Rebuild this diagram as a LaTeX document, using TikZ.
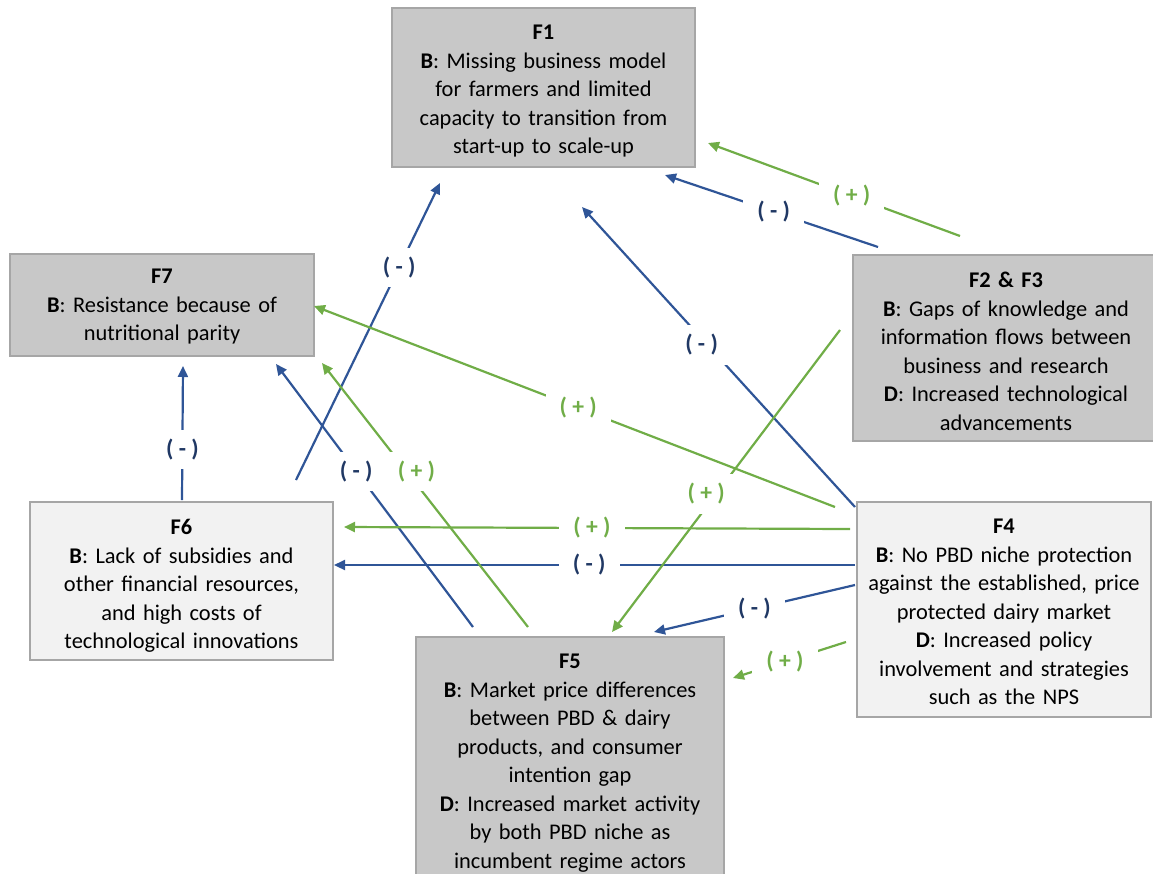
\documentclass[tikz,border=0pt]{standalone}
\usepackage{fontspec}
\setmainfont{Carlito}
\usetikzlibrary{positioning, arrows.meta}
\definecolor{linkblue}{HTML}{2F5597}
\definecolor{labelblue}{HTML}{203864}
\definecolor{linkgreen}{HTML}{70AD47}
\definecolor{boxdark}{HTML}{C8C8C8}
\definecolor{boxlight}{HTML}{F2F2F2}
\definecolor{boxedge}{HTML}{A6A6A6}
\frenchspacing

\begin{document}
\begin{tikzpicture}[x=0.5pt, y=-0.5pt,
    MyBox/.style={draw=boxedge, line width=1pt, inner sep=0pt, outer sep=0pt},
    DarkBox/.style={MyBox, fill=boxdark},
    LightBox/.style={MyBox, fill=boxlight},
    BoxText/.style={inner sep=0pt, align=center, text width=#1,
                font=\fontsize{11.2}{14.25}\selectfont},
    Link/.style={line width=1.1pt, -{Triangle[length=5.5pt, width=5pt]}},
    NegLink/.style={Link, draw=linkblue},
    PosLink/.style={Link, draw=linkgreen},
    Sign/.style={fill=white, inner xsep=7pt, inner ysep=4.5pt, pos=#1,
                font=\bfseries\fontsize{11.8}{13}\selectfont},
    Neg/.style={Sign=#1, text=labelblue},
    Pos/.style={Sign=#1, text=linkgreen},
  ]
\useasboundingbox (0,0) rectangle (1153,874);

% factor boxes
\node (F1) [DarkBox, minimum width=151.5pt, minimum height=79.5pt] at (543.5,87.5) {};
\node (F7) [DarkBox, minimum width=152pt, minimum height=51pt] at (162,305) {};
\node (F23) [DarkBox, minimum width=153pt, minimum height=93pt] at (1006,348) {};
\node (F6) [LightBox, minimum width=151.5pt, minimum height=79pt] at (181.5,581) {};
\node (F4) [LightBox, minimum width=147pt, minimum height=107.5pt] at (1004,609.5) {};
\node (F5) [DarkBox, minimum width=154pt, minimum height=125pt] at (570,762) {};

\node (F1t) [BoxText=150pt, below=8.5pt of F1.north]
  {\textbf{F1}\\\textbf{B}: Missing business model\\for farmers and limited\\capacity to transition from\\start-up to scale-up};
\node (F7t) [BoxText=150pt, below=7.5pt of F7.north]
  {\textbf{F7}\\\textbf{B}: Resistance because of\\nutritional parity};
\node (F23t) [BoxText=150pt, below=8.5pt of F23.north]
  {\textbf{F2 \& F3}\\\textbf{B}: Gaps of knowledge and\\information flows between\\business and research\\\textbf{D}: Increased technological\\advancements};
\node (F6t) [BoxText=150pt, below=8.5pt of F6.north]
  {\textbf{F6}\\\textbf{B}: Lack of subsidies and\\other financial resources,\\and high costs of\\technological innovations};
\node (F4t) [BoxText=150pt, below=8.5pt of F4.north]
  {\textbf{F4}\\\textbf{B}: No PBD niche protection\\against the established, price\\protected dairy market\\\textbf{D}: Increased policy\\involvement and strategies\\such as the NPS};
\node (F5t) [BoxText=152pt, below=8.5pt of F5.north]
  {\textbf{F5}\\\textbf{B}: Market price differences\\between PBD \& dairy\\products, and consumer\\intention gap\\\textbf{D}: Increased market activity\\by both PBD niche as\\incumbent regime actors};

% connector ends
\coordinate (b1a) at (878,247);  \coordinate (b1b) at (665,175);
\coordinate (b2a) at (855,507);  \coordinate (b2b) at (582,207);
\coordinate (b3a) at (296,480);  \coordinate (b3b) at (440,183);
\coordinate (b4a) at (182,500);  \coordinate (b4b) at (183,366);
\coordinate (b5a) at (473,627);  \coordinate (b5b) at (276,364);
\coordinate (b6a) at (855,565);  \coordinate (b6b) at (334,565);
\coordinate (b7a) at (855,585);  \coordinate (b7b) at (654,632);
\coordinate (g1a) at (960,236);  \coordinate (g1b) at (708,143);
\coordinate (g2a) at (835,507);  \coordinate (g2b) at (314,306);
\coordinate (g3a) at (528,627);  \coordinate (g3b) at (322,363);
\coordinate (g4a) at (840,330);  \coordinate (g4b) at (612,632);
\coordinate (g5a) at (850,529);  \coordinate (g5b) at (344,527);
\coordinate (g6a) at (846,642);  \coordinate (g6b) at (733,678);

% negative links
\draw[NegLink] (b1a) -- node[Neg=.49] {( - )} (b1b);
\draw[NegLink] (b2a) -- node[Neg=.54, xshift=-3pt] {( - )} (b2b);
\draw[NegLink] (b3a) -- node[Neg=.717] {( - )} (b3b);
\draw[NegLink] (b4a) -- node[Neg=.38] {( - )} (b4b);
\draw[NegLink] (b5a) -- node[Neg=.593] {( - )} (b5b);
\draw[NegLink] (b6a) -- node[Neg=.51] {( - )} (b6b);
\draw[NegLink] (b7a) -- node[Neg=.5] {( - )} (b7b);

% positive links
\draw[PosLink] (g1a) -- node[Pos=.43] {( + )} (g1b);
\draw[PosLink] (g2a) -- node[Pos=.493] {( + )} (g2b);
\draw[PosLink] (g3a) -- node[Pos=.59, xshift=5pt] {( + )} (g3b);
\draw[PosLink] (g4a) -- node[Pos=.543, xshift=-5pt] {( + )} (g4b);
\draw[PosLink] (g5a) -- node[Pos=.51] {( + )} (g5b);
\draw[PosLink] (g6a) -- node[Pos=.54] {( + )} (g6b);
\end{tikzpicture}
\end{document}
